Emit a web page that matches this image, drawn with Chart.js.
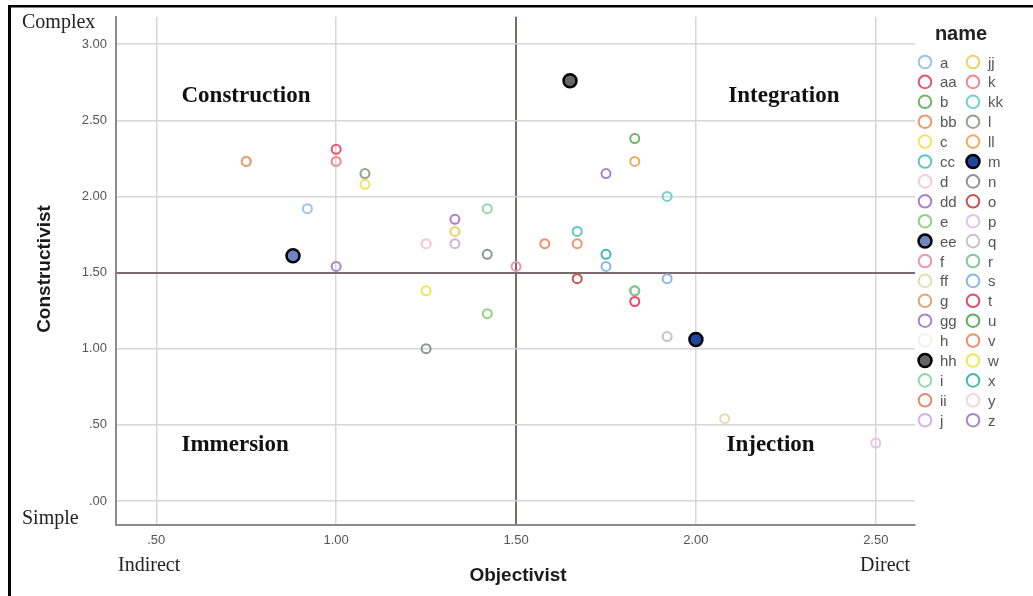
<!DOCTYPE html>
<html>
<head>
<meta charset="utf-8">
<script src="https://cdn.jsdelivr.net/npm/chart.js@4.4.1/dist/chart.umd.min.js"></script>
<style>
  body { margin: 0; background: #fff; }
  canvas { display: block; }
</style>
</head>
<body>
<canvas id="quadChart" width="1033" height="596"></canvas>
<script>
// legend order (SPSS "name" variable)
const names = ['a','aa','b','bb','c','cc','d','dd','e','ee','f','ff','g','gg','h','hh','i','ii','j',
               'jj','k','kk','l','ll','m','n','o','p','q','r','s','t','u','v','w','x','y','z'];
const nameColors = ['#9ec3ea','#e8536e','#6db56d','#f2946e','#f1e55e','#5cc7c0','#f8cadb','#b07cc9','#8fd180','#6f86c4',
                    '#f392b6','#e3ddae','#e2a57a','#ae82cf','#f2f3e6','#666666','#93d7ab','#e48a6e','#d8ade4',
                    '#edd16a','#f28787','#72d1d4','#93a48c','#f0aa5a','#1f46a3','#8f9490','#c85252','#e3c3ea',
                    '#c4c4c4','#82c994','#8db5ea','#ea4766','#5fb15f','#f38c67','#efe84f','#44b7ae','#fad1e2','#a484cf'];
const filledNames = ['ee', 'hh', 'm'];

// one entry per case
const pointNames = ['g','ii','aa','k','l','c','a','ee','gg','b','ll','z','kk','i','dd','jj','h','y','d','j',
                    'v','bb','cc','n','x','f','s','s','o','w','u','r','t','e','n','q','m','ff','p','hh'];
const objectivist = [0.75,0.75,1.00,1.00,1.08,1.08,0.92,0.88,1.00,1.83,1.83,1.75,1.92,1.42,1.33,1.33,1.25,1.25,1.25,1.33,
                     1.58,1.67,1.67,1.42,1.75,1.50,1.75,1.92,1.67,1.25,1.83,1.83,1.83,1.42,1.25,1.92,2.00,2.08,2.50,1.65];
const constructivist = [2.23,2.23,2.31,2.23,2.15,2.08,1.92,1.61,1.54,2.38,2.23,2.15,2.00,1.92,1.85,1.77,1.69,1.69,1.69,1.69,
                        1.69,1.69,1.77,1.62,1.62,1.54,1.54,1.46,1.46,1.38,1.38,1.38,1.31,1.23,1.00,1.08,1.06,0.54,0.38,2.76];

const xTicks = [0.5, 1.0, 1.5, 2.0, 2.5];
const yTicks = [0, 0.5, 1.0, 1.5, 2.0, 2.5, 3.0];
const midValue = 1.5;

const quadrants = ['Construction', 'Integration', 'Immersion', 'Injection'];
const quadX = [0.57, 2.09, 0.57, 2.085];
const quadY = [2.66, 2.66, 0.37, 0.37];

const fmt = v => v.toFixed(2).replace(/^0/, '');

const datasets = names.map((n, i) => {
    const filled = filledNames.includes(n);
    const data = [];
    pointNames.forEach((p, j) => {
        if (p === n) data.push({ x: objectivist[j], y: constructivist[j] });
    });
    return {
        label: n,
        data: data,
        borderColor: filled ? '#000' : nameColors[i],
        backgroundColor: filled ? nameColors[i] : 'rgba(255,255,255,0)',
        pointRadius: filled ? 6.5 : 4.5,
        borderWidth: filled ? 2.5 : 2,
        pointHoverRadius: filled ? 6.5 : 4.5
    };
});

const decorations = {
    id: 'decorations',
    afterDraw(chart) {
        const c = chart.ctx;
        const xs = chart.scales.x, ys = chart.scales.y;
        c.save();

        // frame
        c.fillStyle = '#000';
        c.fillRect(8, 5, 3, 591);
        c.fillRect(8, 5, 1025, 2.5);

        // quadrant names
        c.fillStyle = '#111';
        c.font = 'bold 23px "Liberation Serif", "Times New Roman", serif';
        c.textAlign = 'left';
        c.textBaseline = 'middle';
        quadrants.forEach((q, i) => {
            c.fillText(q, xs.getPixelForValue(quadX[i]), ys.getPixelForValue(quadY[i]));
        });

        // pole labels
        c.fillStyle = '#222';
        c.font = '20px "Liberation Serif", "Times New Roman", serif';
        c.fillText('Complex', 22, 23);
        c.fillText('Simple', 22, 519);
        c.fillText('Indirect', 118, 566);
        c.fillText('Direct', 860, 566);

        // axis titles
        c.fillStyle = '#1a1a1a';
        c.font = 'bold 19px "Liberation Sans", Arial, sans-serif';
        c.textAlign = 'center';
        c.fillText('Objectivist', 518, 576);
        c.translate(45, 269);
        c.rotate(-Math.PI / 2);
        c.fillText('Constructivist', 0, 0);
        c.restore();

        // legend
        c.save();
        c.fillStyle = '#222';
        c.font = 'bold 20px "Liberation Sans", Arial, sans-serif';
        c.textAlign = 'center';
        c.textBaseline = 'alphabetic';
        c.fillText('name', 961, 40);
        c.font = '15px "Liberation Sans", Arial, sans-serif';
        c.textAlign = 'left';
        const perCol = Math.ceil(names.length / 2);
        names.forEach((n, i) => {
            const col = Math.floor(i / perCol);
            const row = i % perCol;
            const cx = col === 0 ? 925 : 973;
            const cy = 62 + row * 19.9;
            const filled = filledNames.includes(n);
            c.beginPath();
            c.arc(cx, cy, filled ? 6.5 : 6.3, 0, Math.PI * 2);
            if (filled) {
                c.fillStyle = nameColors[i];
                c.fill();
                c.lineWidth = 2.5;
                c.strokeStyle = '#000';
            } else {
                c.lineWidth = 2;
                c.strokeStyle = nameColors[i];
            }
            c.stroke();
            c.fillStyle = '#555';
            c.fillText(n, cx + 15, cy + 5.5);
        });
        c.restore();
    }
};

const gridColor = ctx => (ctx.tick && ctx.tick.value === midValue) ? '#7a6b6b' : '#d6d6d6';
const gridWidth = ctx => (ctx.tick && ctx.tick.value === midValue) ? 2 : 1.5;
const tickFont = { family: '"Liberation Sans", Arial, sans-serif', size: 13 };

new Chart(document.getElementById('quadChart'), {
    type: 'scatter',
    data: { datasets: datasets },
    options: {
        responsive: false,
        animation: false,
        devicePixelRatio: 1,
        layout: { padding: { top: 13, right: 118, left: 0, bottom: 0 } },
        plugins: { legend: { display: false }, tooltip: { enabled: false } },
        scales: {
            x: {
                type: 'linear',
                min: 0.388,
                max: 2.609,
                afterBuildTicks: a => { a.ticks = xTicks.map(v => ({ value: v })); },
                afterFit: s => { s.height = 71; },
                ticks: { callback: fmt, font: tickFont, color: '#555', padding: 8, maxRotation: 0 },
                grid: { color: gridColor, lineWidth: gridWidth, drawTicks: false },
                border: { color: '#8a8a8a', width: 2 }
            },
            y: {
                type: 'linear',
                min: -0.158,
                max: 3.18,
                afterBuildTicks: a => { a.ticks = yTicks.map(v => ({ value: v })); },
                afterFit: s => { s.width = 116; },
                ticks: { callback: fmt, font: tickFont, color: '#555', padding: 9 },
                grid: { color: gridColor, lineWidth: gridWidth, drawTicks: false },
                border: { color: '#8a8a8a', width: 2 }
            }
        }
    },
    plugins: [decorations]
});
</script>
</body>
</html>
